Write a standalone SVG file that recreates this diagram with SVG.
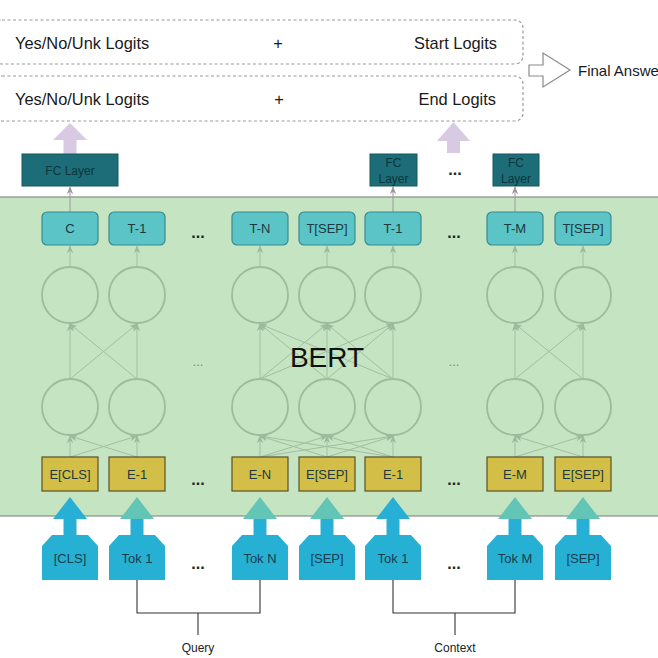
<svg xmlns="http://www.w3.org/2000/svg" width="658" height="658" viewBox="0 0 658 658">
<defs>
<style>
.txt{font-family:"Liberation Sans",Arial,sans-serif}
.big{font-size:16.4px;fill:#1a1a1a}
.lbl{font-size:13px;text-anchor:middle;fill:#1c3a3f}
.tl{fill:#173f50}
.tbox{fill:#5ac4c6;stroke:#3a8a8f;stroke-width:1.2}
.ebox{fill:#d3bf47;stroke:#5a5226;stroke-width:1.2}
.tok{fill:#25b0d4}
.fc{fill:#1c6d78;stroke:#15585f;stroke-width:1}
.fct{font-size:12px;text-anchor:middle;fill:#0e363c}
.circ{fill:none;stroke:#9dbc9a;stroke-width:1.8}
.net{stroke:#a3bea1;stroke-width:1;fill:none;marker-end:url(#ah)}
.up{stroke:#9a9a9a;stroke-width:1;fill:none;marker-end:url(#ah2)}
.dots{font-size:16px;text-anchor:middle;fill:#222;font-weight:bold}
.gdots{font-size:13px;text-anchor:middle;fill:#7a8a7a}
.dash{fill:#fff;stroke:#9a9a9a;stroke-width:1.2;stroke-dasharray:3 2.5}
.brk{stroke:#333;stroke-width:1.1;fill:none}
.lav{fill:#d8cae3}
.hb{fill:#27afd5}
.ht{fill:#62c5b6}
</style>
<marker id="ah" viewBox="0 0 10 10" refX="9" refY="5" markerWidth="8" markerHeight="8" orient="auto-start-reverse"><path d="M0,1 L10,5 L0,9 L3,5 Z" fill="#9db89b"/></marker>
<marker id="ah2" viewBox="0 0 10 10" refX="9" refY="5" markerWidth="8" markerHeight="8" orient="auto-start-reverse"><path d="M0,1 L10,5 L0,9 L3,5 Z" fill="#9a9a9a"/></marker>
</defs>
<rect x="0" y="0" width="658" height="658" fill="#ffffff"/>

<!-- top outputs -->
<g id="out-start">
<rect class="dash" x="-6" y="20" width="529" height="44" rx="8"/>
<text class="txt big" x="15" y="49">Yes/No/Unk Logits</text>
<text class="txt big" x="278" y="49" text-anchor="middle">+</text>
<text class="txt big" x="497" y="49" text-anchor="end">Start Logits</text>
</g>
<g id="out-end">
<rect class="dash" x="-6" y="76" width="529" height="45" rx="8"/>
<text class="txt big" x="15" y="105">Yes/No/Unk Logits</text>
<text class="txt big" x="279" y="105" text-anchor="middle">+</text>
<text class="txt big" x="496" y="105" text-anchor="end">End Logits</text>
</g>
<g id="final">
<path d="M529,65 L543,65 L543,53 L570,70 L543,87 L543,76 L529,76 Z" fill="#fff" stroke="#8a8a8a" stroke-width="1.2"/>
<text class="txt" x="578" y="76" font-size="15" fill="#1a1a1a">Final Answer</text>
</g>

<!-- BERT region -->
<g id="bert">
<rect x="-2" y="197" width="662" height="319" fill="#c5e4c2" stroke="#8a8a8a" stroke-width="1.2"/>
<text class="txt gdots" x="198" y="366">...</text>
<text class="txt gdots" x="454" y="366">...</text>
<circle class="circ" cx="70" cy="295" r="28"/><circle class="circ" cx="70" cy="407" r="28"/>
<circle class="circ" cx="137" cy="295" r="28"/><circle class="circ" cx="137" cy="407" r="28"/>
<circle class="circ" cx="260" cy="295" r="28"/><circle class="circ" cx="260" cy="407" r="28"/>
<circle class="circ" cx="327" cy="295" r="28"/><circle class="circ" cx="327" cy="407" r="28"/>
<circle class="circ" cx="393" cy="295" r="28"/><circle class="circ" cx="393" cy="407" r="28"/>
<circle class="circ" cx="515" cy="295" r="28"/><circle class="circ" cx="515" cy="407" r="28"/>
<circle class="circ" cx="583" cy="295" r="28"/><circle class="circ" cx="583" cy="407" r="28"/>
</g>

<!-- connectors -->
<g id="connectors">
<path class="net" d="M70,267 L70,246"/><path class="net" d="M137,267 L137,246"/>
<path class="net" d="M260,267 L260,246"/><path class="net" d="M327,267 L327,246"/>
<path class="net" d="M393,267 L393,246"/><path class="net" d="M515,267 L515,246"/>
<path class="net" d="M583,267 L583,246"/>
<path class="net" d="M70,379 L70,324"/><path class="net" d="M137,379 L137,324"/>
<path class="net" d="M70,379 L137,324"/><path class="net" d="M137,379 L70,324"/>
<path class="net" d="M260,379 L260,324"/><path class="net" d="M327,379 L327,324"/><path class="net" d="M393,379 L393,324"/>
<path class="net" d="M260,379 L327,324"/><path class="net" d="M327,379 L260,324"/>
<path class="net" d="M327,379 L393,324"/><path class="net" d="M393,379 L327,324"/>
<path class="net" d="M260,379 L393,324"/><path class="net" d="M393,379 L260,324"/>
<path class="net" d="M515,379 L515,324"/><path class="net" d="M583,379 L583,324"/>
<path class="net" d="M515,379 L583,324"/><path class="net" d="M583,379 L515,324"/>
<path class="net" d="M70,457 L70,436"/><path class="net" d="M137,457 L137,436"/>
<path class="net" d="M70,457 L137,436"/><path class="net" d="M137,457 L70,436"/>
<path class="net" d="M260,457 L260,436"/><path class="net" d="M327,457 L327,436"/><path class="net" d="M393,457 L393,436"/>
<path class="net" d="M260,457 L327,436"/><path class="net" d="M327,457 L260,436"/>
<path class="net" d="M327,457 L393,436"/><path class="net" d="M393,457 L327,436"/>
<path class="net" d="M260,457 L393,436"/><path class="net" d="M393,457 L260,436"/>
<path class="net" d="M515,457 L515,436"/><path class="net" d="M583,457 L583,436"/>
<path class="net" d="M515,457 L583,436"/><path class="net" d="M583,457 L515,436"/>
<path class="up" d="M70,212 L70,187"/>
<path class="up" d="M393,212 L393,187"/>
<path class="up" d="M515,212 L515,187"/>
<path class="lav" d="M63.5,154 L63.5,140 L53,140 L70,123 L87,140 L76.5,140 L76.5,154 Z"/>
<path class="lav" d="M447,153 L447,141 L437,141 L453.5,122 L470,141 L460,141 L460,153 Z"/>
<g id="in-arrows">
<rect class="hb" x="63.5" y="518" width="13" height="18"/><path class="hb" d="M53,519 L70,497 L87,519 Z"/>
<rect class="hb" x="130.5" y="518" width="13" height="18"/><path class="ht" d="M120,519 L137,497 L154,519 Z"/>
<rect class="hb" x="253.5" y="518" width="13" height="18"/><path class="ht" d="M243,519 L260,497 L277,519 Z"/>
<rect class="hb" x="320.5" y="518" width="13" height="18"/><path class="ht" d="M310,519 L327,497 L344,519 Z"/>
<rect class="hb" x="386.5" y="518" width="13" height="18"/><path class="hb" d="M376,519 L393,497 L410,519 Z"/>
<rect class="hb" x="508.5" y="518" width="13" height="18"/><path class="ht" d="M498,519 L515,497 L532,519 Z"/>
<rect class="hb" x="576.5" y="518" width="13" height="18"/><path class="ht" d="M566,519 L583,497 L600,519 Z"/>
</g>
<path class="brk" d="M137,580 L137,613 L260,613 L260,580 M198,613 L198,635"/>
<path class="brk" d="M393,580 L393,613 L515,613 L515,580 M455,613 L455,635"/>
</g>

<text id="bert-label" class="txt" x="327" y="367" font-size="28" text-anchor="middle" fill="#111">BERT</text>

<!-- FC layers -->
<g id="fc-1"><rect class="fc" x="22" y="154" width="96" height="32"/><text class="txt fct" x="70" y="175">FC Layer</text></g>
<g id="fc-2"><rect class="fc" x="370" y="154" width="47" height="32"/><text class="txt fct" x="393.5" y="167">FC</text><text class="txt fct" x="393.5" y="183">Layer</text></g>
<g id="fc-3"><rect class="fc" x="493" y="154" width="46" height="32"/><text class="txt fct" x="516" y="167">FC</text><text class="txt fct" x="516" y="183">Layer</text></g>
<text class="txt dots" x="455" y="175">...</text>

<!-- T row -->
<g id="t-c"><rect class="tbox" x="42" y="212" width="56" height="33" rx="5"/><text class="txt lbl" x="70" y="233">C</text></g>
<g id="t-1"><rect class="tbox" x="109" y="212" width="56" height="33" rx="5"/><text class="txt lbl" x="137" y="233">T-1</text></g>
<g id="t-n"><rect class="tbox" x="232" y="212" width="56" height="33" rx="5"/><text class="txt lbl" x="260" y="233">T-N</text></g>
<g id="t-sep1"><rect class="tbox" x="299" y="212" width="56" height="33" rx="5"/><text class="txt lbl" x="327" y="233">T[SEP]</text></g>
<g id="t-1b"><rect class="tbox" x="365" y="212" width="56" height="33" rx="5"/><text class="txt lbl" x="393" y="233">T-1</text></g>
<g id="t-m"><rect class="tbox" x="487" y="212" width="56" height="33" rx="5"/><text class="txt lbl" x="515" y="233">T-M</text></g>
<g id="t-sep2"><rect class="tbox" x="555" y="212" width="56" height="33" rx="5"/><text class="txt lbl" x="583" y="233">T[SEP]</text></g>
<text class="txt dots" x="198" y="238">...</text>
<text class="txt dots" x="454" y="238">...</text>

<!-- E row -->
<g id="e-cls"><rect class="ebox" x="42" y="457" width="56" height="34"/><text class="txt lbl" x="70" y="479">E[CLS]</text></g>
<g id="e-1"><rect class="ebox" x="109" y="457" width="56" height="34"/><text class="txt lbl" x="137" y="479">E-1</text></g>
<g id="e-n"><rect class="ebox" x="232" y="457" width="56" height="34"/><text class="txt lbl" x="260" y="479">E-N</text></g>
<g id="e-sep1"><rect class="ebox" x="299" y="457" width="56" height="34"/><text class="txt lbl" x="327" y="479">E[SEP]</text></g>
<g id="e-1b"><rect class="ebox" x="365" y="457" width="56" height="34"/><text class="txt lbl" x="393" y="479">E-1</text></g>
<g id="e-m"><rect class="ebox" x="487" y="457" width="56" height="34"/><text class="txt lbl" x="515" y="479">E-M</text></g>
<g id="e-sep2"><rect class="ebox" x="555" y="457" width="56" height="34"/><text class="txt lbl" x="583" y="479">E[SEP]</text></g>
<text class="txt dots" x="198" y="485">...</text>
<text class="txt dots" x="454" y="485">...</text>

<!-- tokens -->
<g id="tok-cls"><path class="tok" d="M42,580 L42,546 L52,535 L88,535 L98,546 L98,580 Z"/><text class="txt lbl tl" x="70" y="563">[CLS]</text></g>
<g id="tok-1"><path class="tok" d="M109,580 L109,546 L119,535 L155,535 L165,546 L165,580 Z"/><text class="txt lbl tl" x="137" y="563">Tok 1</text></g>
<g id="tok-n"><path class="tok" d="M232,580 L232,546 L242,535 L278,535 L288,546 L288,580 Z"/><text class="txt lbl tl" x="260" y="563">Tok N</text></g>
<g id="tok-sep1"><path class="tok" d="M299,580 L299,546 L309,535 L345,535 L355,546 L355,580 Z"/><text class="txt lbl tl" x="327" y="563">[SEP]</text></g>
<g id="tok-1b"><path class="tok" d="M365,580 L365,546 L375,535 L411,535 L421,546 L421,580 Z"/><text class="txt lbl tl" x="393" y="563">Tok 1</text></g>
<g id="tok-m"><path class="tok" d="M487,580 L487,546 L497,535 L533,535 L543,546 L543,580 Z"/><text class="txt lbl tl" x="515" y="563">Tok M</text></g>
<g id="tok-sep2"><path class="tok" d="M555,580 L555,546 L565,535 L601,535 L611,546 L611,580 Z"/><text class="txt lbl tl" x="583" y="563">[SEP]</text></g>
<text class="txt dots" x="198" y="569">...</text>
<text class="txt dots" x="454" y="569">...</text>

<g id="query"><text class="txt" x="198" y="652" font-size="12" text-anchor="middle" fill="#222">Query</text></g>
<g id="context"><text class="txt" x="455" y="652" font-size="12" text-anchor="middle" fill="#222">Context</text></g>
</svg>
